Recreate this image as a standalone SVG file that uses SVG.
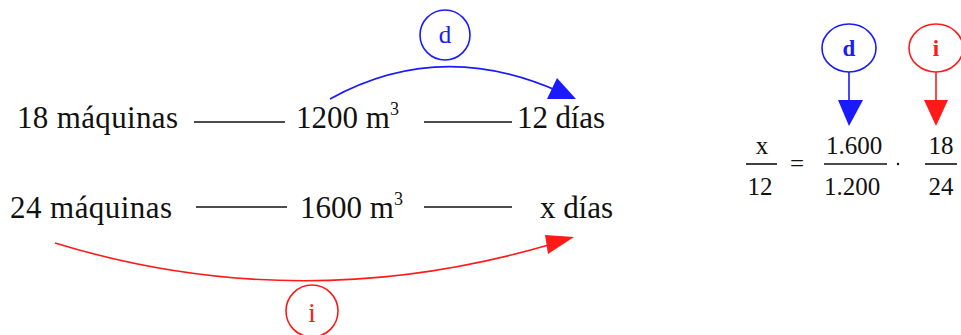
<svg xmlns="http://www.w3.org/2000/svg" width="961" height="335" viewBox="0 0 961 335">
<style>
.t{font-family:"Liberation Serif","Times New Roman",serif;font-size:31px;fill:#111}
.s{font-family:"Liberation Serif","Times New Roman",serif;font-size:25px;fill:#111}
.ln{stroke:#111;stroke-width:1.6}
.b{stroke:#1a1aff;fill:none;stroke-width:1.6}
.r{stroke:#ff1a1a;fill:none;stroke-width:1.6}
.bf{fill:#1a1aff}
.rf{fill:#ff1a1a}
</style>
<rect width="961" height="335" fill="#fff"/>
<g id="row1">
<text class="t" x="17" y="128" textLength="161">18 máquinas</text>
<line class="ln" x1="194" y1="122" x2="285" y2="122"/>
<text class="t" x="296" y="128">1200 m<tspan font-size="18" dy="-13">3</tspan></text>
<line class="ln" x1="424" y1="122" x2="512" y2="122"/>
<text class="t" x="517" y="128" textLength="88">12 días</text>
</g>
<g id="row2">
<text class="t" x="10" y="218" textLength="162">24 máquinas</text>
<line class="ln" x1="196" y1="207" x2="287" y2="207"/>
<text class="t" x="300" y="218">1600 m<tspan font-size="18" dy="-13">3</tspan></text>
<line class="ln" x1="424" y1="207" x2="512" y2="207"/>
<text class="t" x="540" y="218" textLength="73">x días</text>
</g>
<g id="label-d">
<circle class="b" cx="445" cy="35" r="25"/>
<text class="t" x="445" y="43" text-anchor="middle" style="fill:#1a1aff;font-size:25px">d</text>
</g>
<g id="label-i">
<circle class="r" cx="312" cy="311" r="26"/>
<text class="t" x="312" y="322" text-anchor="middle" style="fill:#ff1a1a;font-size:27px">i</text>
</g>
<g id="connectors">
<path class="b" d="M330 99 Q 440 38 560 92"/>
<polygon class="bf" points="547,99 576,99 557,78"/>
<path class="r" d="M55 243 Q 300 318 552 244"/>
<polygon class="rf" points="545,235 574,237 548,254"/>
</g>
<g id="label-d2">
<ellipse class="b" cx="849" cy="48" rx="27" ry="24"/>
<text x="849" y="56" text-anchor="middle" style="font-family:'Liberation Serif',serif;font-weight:bold;font-size:23px;fill:#1a1aff">d</text>
<line class="b" x1="849" y1="72" x2="849" y2="104"/>
<polygon class="bf" points="838,100 863,100 849,126"/>
</g>
<g id="label-i2">
<ellipse class="r" cx="936" cy="48" rx="27" ry="24"/>
<text x="936" y="56" text-anchor="middle" style="font-family:'Liberation Serif',serif;font-weight:bold;font-size:23px;fill:#ff1a1a">i</text>
<line class="r" x1="936" y1="72" x2="936" y2="104"/>
<polygon class="rf" points="924,100 948,100 936,126"/>
</g>
<g id="equation">
<text class="s" x="762" y="154" text-anchor="middle">x</text>
<line class="ln" x1="746" y1="164" x2="777" y2="164"/>
<text class="s" x="760" y="195" text-anchor="middle">12</text>
<text class="s" x="797" y="172" text-anchor="middle">=</text>
<text class="s" x="854" y="154" text-anchor="middle">1.600</text>
<line class="ln" x1="824" y1="164" x2="887" y2="164"/>
<text class="s" x="852" y="195" text-anchor="middle">1.200</text>
<circle cx="898" cy="164" r="1.2" fill="#111"/>
<text class="s" x="941" y="154" text-anchor="middle">18</text>
<line class="ln" x1="925" y1="164" x2="957" y2="164"/>
<text class="s" x="941" y="195" text-anchor="middle">24</text>
</g>
</svg>
